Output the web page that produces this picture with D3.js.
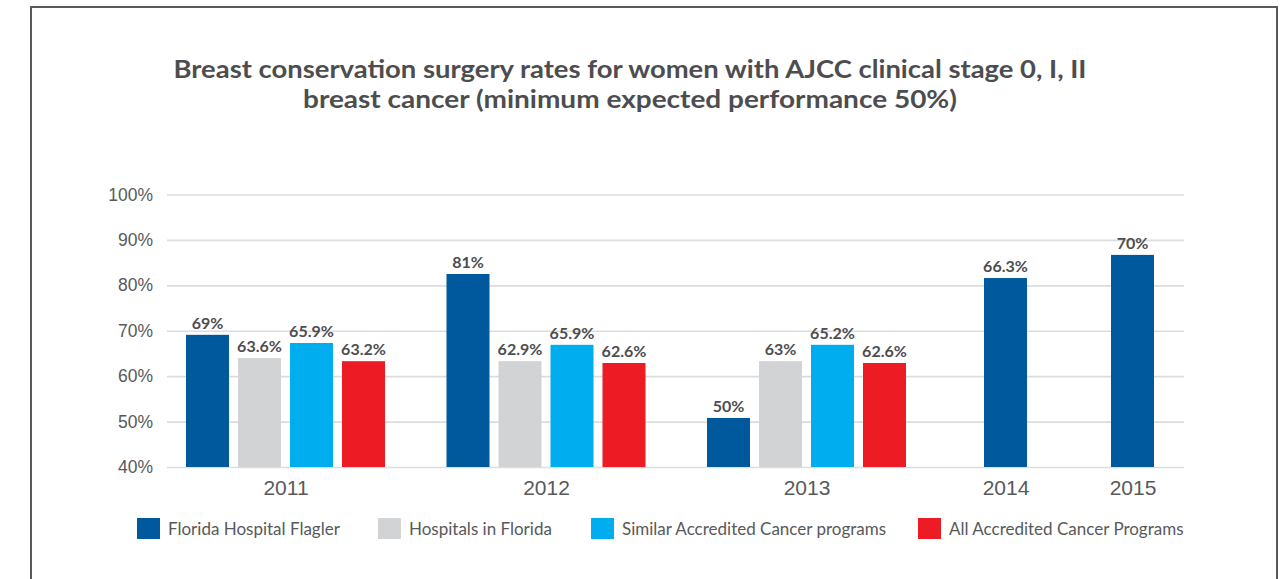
<!DOCTYPE html>
<html>
<head>
<meta charset="utf-8">
<script src="https://d3js.org/d3.v7.min.js"></script>
<style>
  body { margin: 0; background: #fff; }
  svg { display: block; font-family: Lato, "Open Sans", sans-serif; }
  .grid line { stroke: #dcdddf; stroke-width: 1.6; }
  .grid path { stroke-width: 0; }
  .y.axis path, .y.axis line, .x.axis path, .x.axis line { display: none; }
  .y.axis text { font-size: 17.5px; fill: #58595b; }
  .x.axis text { font-size: 21px; fill: #58595b; }
  .val { font-size: 16px; font-weight: bold; fill: #4d4d4f; }
  .title { font-size: 24.5px; font-weight: bold; fill: #4d4d4f; }
  .legend text { font-size: 17px; fill: #58595b; }
</style>
</head>
<body>
<script>
var W = 1284, H = 579;

// data
var years = ["2011", "2012", "2013", "2014", "2015"];
var series = ["Florida Hospital Flagler", "Hospitals in Florida",
              "Similar Accredited Cancer programs", "All Accredited Cancer Programs"];
var colors = ["#00599c", "#d1d3d4", "#00aeef", "#ed1c24"];
// bar heights as drawn (%), null = no bar
var flagler   = [69.1, 82.5, 50.8, 81.6, 86.7];
var florida   = [64.0, 63.3, 63.3, null, null];
var similar   = [67.3, 66.9, 66.9, null, null];
var allProgs  = [63.3, 62.9, 62.9, null, null];
// printed labels
var flaglerLbl  = ["69%", "81%", "50%", "66.3%", "70%"];
var floridaLbl  = ["63.6%", "62.9%", "63%", "", ""];
var similarLbl  = ["65.9%", "65.9%", "65.2%", "", ""];
var allProgsLbl = ["63.2%", "62.6%", "62.6%", "", ""];
var yTicks = [40, 50, 60, 70, 80, 90, 100];
var titleLines = ["Breast conservation surgery rates for women with AJCC clinical stage 0, I, II",
                  "breast cancer (minimum expected performance 50%)"];

var values = [flagler, florida, similar, allProgs];
var labels = [flaglerLbl, floridaLbl, similarLbl, allProgsLbl];

var svg = d3.select("body").append("svg")
    .attr("width", W)
    .attr("height", H);

// frame
svg.append("path")
    .attr("d", "M31,579 V7 H1277 V579")
    .attr("fill", "none")
    .attr("stroke", "#595959")
    .attr("stroke-width", 2);

// title
svg.selectAll(".title")
    .data(titleLines)
    .enter().append("text")
    .attr("class", "title")
    .attr("x", 630)
    .attr("y", function(d, i) { return 78 + i * 29.5; })
    .attr("text-anchor", "middle")
    .attr("textLength", function(d, i) { return i === 0 ? 913 : 654; })
    .attr("lengthAdjust", "spacingAndGlyphs")
    .text(function(d) { return d; });

var y = d3.scaleLinear().domain([40, 100]).range([467, 194.5]);
var x = d3.scaleOrdinal().domain(years).range([285.5, 546, 806.5, 1005.5, 1132.5]);
var xInner = d3.scaleBand().domain(series).range([-99.5, 99.5]).paddingInner(0.173);
var bw = xInner.bandwidth();

// grid
svg.append("g")
    .attr("class", "grid")
    .attr("transform", "translate(167,0)")
    .call(d3.axisLeft(y).tickValues(yTicks).tickSize(-1017).tickFormat(""));

svg.append("g")
    .attr("class", "y axis")
    .attr("transform", "translate(162,0)")
    .call(d3.axisLeft(y).tickValues(yTicks).tickSize(0).tickPadding(9)
        .tickFormat(function(d) { return d + "%"; }));

svg.append("g")
    .attr("class", "x axis")
    .attr("transform", "translate(0,473)")
    .call(d3.axisBottom(x).tickSize(0).tickPadding(7));

// bars
var bars = [];
values.forEach(function(arr, s) {
  arr.forEach(function(v, i) {
    if (v == null) return;
    var single = values.slice(1).every(function(a) { return a[i] == null; });
    var cx = single ? x(years[i]) - bw / 2 : x(years[i]) + xInner(series[s]);
    bars.push({ s: s, v: v, x: cx, label: labels[s][i] });
  });
});

svg.selectAll(".bar")
    .data(bars)
    .enter().append("rect")
    .attr("class", "bar")
    .attr("x", function(d) { return d.x; })
    .attr("width", bw)
    .attr("y", function(d) { return y(d.v); })
    .attr("height", function(d) { return y(40) - y(d.v); })
    .attr("fill", function(d) { return colors[d.s]; });

svg.selectAll(".val")
    .data(bars)
    .enter().append("text")
    .attr("class", "val")
    .attr("x", function(d) { return d.x + bw / 2; })
    .attr("y", function(d) { return y(d.v) - 6; })
    .attr("text-anchor", "middle")
    .text(function(d) { return d.label; });

// legend
var legend = svg.append("g").attr("class", "legend");
var lx = [137, 378, 591, 918];
series.forEach(function(name, i) {
  var g = legend.append("g").attr("transform", "translate(" + lx[i] + ",518)");
  g.append("rect").attr("width", 23).attr("height", 21).attr("fill", colors[i]);
  g.append("text").attr("x", 31).attr("y", 17).text(name);
});
</script>
</body>
</html>
